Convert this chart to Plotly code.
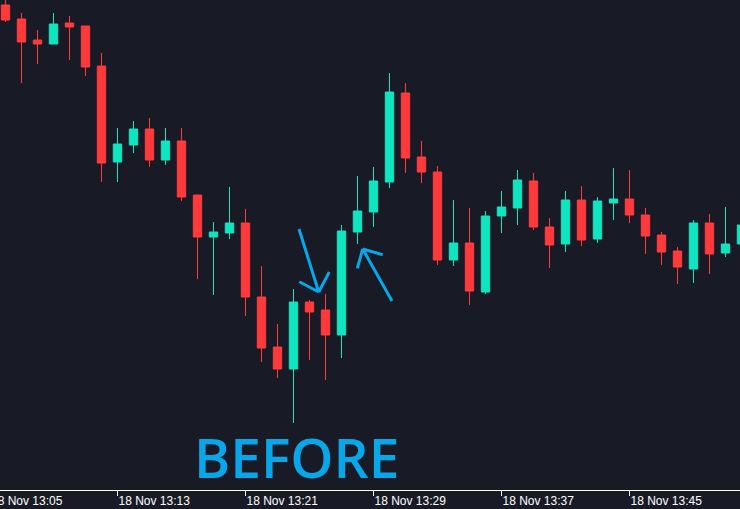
import plotly.graph_objects as go

# ---- data (one candle per minute, starting 18 Nov 13:06) ----
times = [f"2024-11-18 13:{m:02d}" for m in range(6, 53)]
opens = [199.5, 198.1, 196.0, 195.6, 197.7, 197.4, 193.4, 183.8, 185.5, 187.1,
         184.0, 185.9, 180.5, 176.3, 176.7, 177.7, 170.3, 165.3, 163.1, 169.8,
         169.0, 166.5, 176.8, 178.8, 181.8, 190.7, 184.3, 182.8, 174.0, 175.7,
         170.8, 178.4, 179.2, 181.9, 177.3, 175.6, 180.0, 176.1, 179.7, 180.1,
         178.5, 176.5, 174.9, 173.1, 177.7, 174.7, 175.6]
highs = [200.3, 198.7, 197.0, 198.7, 198.4, 197.4, 194.7, 187.2, 187.9, 188.2,
         187.2, 187.2, 180.5, 177.8, 181.3, 179.1, 173.4, 167.6, 171.1, 170.0,
         170.6, 177.5, 182.4, 183.3, 192.7, 191.7, 185.9, 183.4, 180.0, 179.2,
         178.9, 180.9, 183.0, 182.7, 178.2, 180.9, 181.4, 180.3, 183.2, 183.0,
         179.2, 176.8, 175.3, 178.0, 178.6, 179.3, 177.8]
lows = [197.8, 191.7, 193.6, 195.6, 194.0, 192.4, 181.8, 181.8, 184.7, 183.3,
        183.5, 179.9, 172.1, 170.5, 176.1, 168.4, 163.8, 162.2, 157.7, 164.0,
        162.0, 164.2, 175.6, 177.3, 181.2, 182.7, 181.7, 173.5, 173.4, 169.5,
        170.6, 176.7, 177.5, 177.0, 173.2, 174.8, 175.4, 175.7, 178.0, 177.7,
        174.6, 173.5, 171.6, 171.7, 172.6, 174.3, 175.4]
closes = [198.0, 195.8, 195.6, 197.6, 197.3, 193.3, 183.7, 185.6, 187.1, 184.0,
          185.9, 180.3, 176.3, 176.8, 177.7, 170.3, 165.2, 163.1, 169.8, 168.8,
          166.5, 176.9, 178.9, 181.9, 190.8, 184.2, 182.8, 174.0, 175.7, 170.9,
          178.4, 179.3, 182.0, 177.3, 175.5, 180.0, 176.0, 179.9, 180.1, 178.5,
          176.4, 174.8, 173.3, 177.7, 174.6, 175.6, 177.5]

tick0 = "2024-11-18 13:05"
first_label = "18 Nov 13:05"
caption = "BEFORE"

# ---- style ----
BG = "#181b26"
UP = "#0ee5c1"
DOWN = "#ff3a3c"
BLUE = "#07a7e9"
W, H, B = 740, 509, 19
PH = H - B


def px(x, y):
    return x / W, 1 - y / PH


def arrow_path(points):
    parts = []
    for seg in points:
        (x1, y1), (x2, y2) = px(*seg[0]), px(*seg[1])
        parts.append(f"M{x1:.5f},{y1:.5f} L{x2:.5f},{y2:.5f}")
    return " ".join(parts)


fig = go.Figure(go.Candlestick(
    x=times, open=opens, high=highs, low=lows, close=closes,
    increasing=dict(line=dict(color=UP, width=1), fillcolor=UP),
    decreasing=dict(line=dict(color=DOWN, width=1), fillcolor=DOWN),
    hoverinfo="skip",
))

arrow1 = [((299, 229), (318.7, 292)), ((299.3, 281.7), (318.7, 292)), ((329.3, 272), (318.7, 292))]
arrow2 = [((392, 301), (362.7, 249)), ((357.3, 268.3), (362.7, 249)), ((382.7, 254.7), (362.7, 249))]
shapes = [dict(type="path", xref="paper", yref="paper", path=arrow_path(a),
               line=dict(color=BLUE, width=3)) for a in (arrow1, arrow2)]

cx, cy = px(296, 456)
fx, fy = px(-11, 490)
fig.update_layout(
    width=W, height=H,
    margin=dict(l=0, r=0, t=0, b=B, pad=0),
    paper_bgcolor=BG, plot_bgcolor=BG,
    showlegend=False,
    boxgap=0.25,
    shapes=shapes,
    annotations=[
        dict(text=caption, x=cx, y=cy, xref="paper", yref="paper", showarrow=False,
             xanchor="center", yanchor="middle",
             font=dict(family="Open Sans", size=55, color=BLUE, weight=600)),
        dict(text=first_label, x=fx, y=fy, xref="paper", yref="paper", showarrow=False,
             xanchor="left", yanchor="top", yshift=-2,
             font=dict(family="Liberation Sans", size=12, color="#ffffff")),
    ],
    xaxis=dict(
        type="date",
        range=["2024-11-18 13:05:39.375", "2024-11-18 13:51:54.375"],
        rangeslider=dict(visible=False),
        showgrid=False, zeroline=False,
        showline=True, linecolor="#ffffff", linewidth=1,
        ticks="outside", ticklen=5, tickcolor="#ffffff",
        tick0=tick0, dtick=8 * 60 * 1000, tickformat="%d %b %H:%M",
        ticklabelposition="outside right",
        tickfont=dict(family="Liberation Sans", size=12, color="#ffffff"),
        automargin=False,
    ),
    yaxis=dict(range=[151, 200], visible=False, showgrid=False, zeroline=False,
               fixedrange=True),
)

fig.write_html("out.html", config={"displayModeBar": False},
               post_script="document.body.style.margin='0';document.body.style.overflow='hidden';")
